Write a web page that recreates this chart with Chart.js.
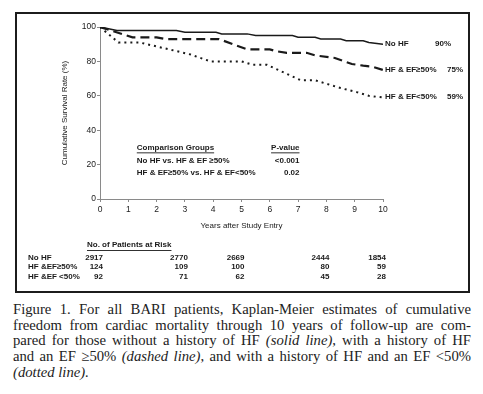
<!DOCTYPE html>
<html>
<head>
<meta charset="utf-8">
<script src="https://cdn.jsdelivr.net/npm/chart.js@4"></script>
<style>
  body { margin: 0; background: #fff; width: 483px; height: 394px; position: relative; overflow: hidden; }
  #box { position: absolute; left: 15px; top: 12px; width: 451px; height: 277px; border: 2px solid #1c1c1c; }
  #caption { position: absolute; left: 13px; top: 302px; width: 458px; font-family: 'Liberation Serif', 'Times New Roman', serif; font-size: 14.7px; line-height: 15.7px; color: #222; }
  #caption div { text-align: justify; text-align-last: justify; white-space: nowrap; }
  #caption div.last { text-align-last: left; }
</style>
</head>
<body>
<div id="box"><canvas id="km" width="451" height="277"></canvas></div>
<div id="caption">
  <div>Figure 1. For all BARI patients, Kaplan-Meier estimates of cumulative</div>
  <div>freedom from cardiac mortality through 10 years of follow-up are com-</div>
  <div>pared for those without a history of HF <i>(solid line)</i>, with a history of HF</div>
  <div>and an EF &ge;50% <i>(dashed line)</i>, and with a history of HF and an EF &lt;50%</div>
  <div class="last"><i>(dotted line).</i></div>
</div>
<script>
// survival curves (years, %)
const noHfYears = [0, 0.6, 2.7, 3.0, 4.1, 4.3, 5.2, 5.5, 6.8, 7.0, 7.6, 7.8, 8.5, 8.7, 9.3, 9.5, 10];
const noHfRate  = [100, 98, 98, 97, 97, 96, 96, 95, 95, 94, 94, 93, 93, 92, 92, 91, 90];
const efHighYears = [0, 1.15, 2.0, 2.3, 4.2, 5.2, 6.0, 6.2, 6.6, 7.3, 7.6, 8.3, 8.9, 9.3, 9.6, 10];
const efHighRate  = [100, 94, 94, 93, 93, 87, 87, 86, 85, 85, 83.5, 82, 78.5, 77.5, 77, 75];
const efLowYears = [0, 0.65, 1.4, 2.7, 3.2, 3.9, 5.0, 5.4, 5.9, 7.1, 7.6, 8.1, 8.5, 9.1, 9.5, 10];
const efLowRate  = [100, 91, 91, 86, 84, 80, 80, 78, 78, 69, 69, 66.5, 64.5, 62, 60, 59];

const seriesNames = ['No HF', 'HF & EF\u226550%', 'HF & EF<50%'];
const endPercents = ['90%', '75%', '59%'];

// comparison table
const compGroups = ['No HF vs. HF & EF \u226550%', 'HF & EF\u226550% vs. HF & EF<50%'];
const compPValues = ['<0.001', '0.02'];

// patients at risk
const riskYears = [0, 3, 5, 8, 10];
const riskLabels = ['No HF', 'HF &EF\u226550%', 'HF &EF <50%'];
const riskNoHf = [2917, 2770, 2669, 2444, 1854];
const riskEfHigh = [124, 109, 100, 80, 59];
const riskEfLow = [92, 71, 62, 45, 28];

const yTicks = [0, 20, 40, 60, 80, 100];

const FONT = "'Liberation Sans', Arial, sans-serif";
const INK = '#1a1a1a';

function pts(xs, ys) { return xs.map((x, i) => ({ x: x, y: ys[i] })); }

function underlineText(ctx, text, x, y, align) {
  ctx.textAlign = align;
  ctx.fillText(text, x, y);
  const w = ctx.measureText(text).width;
  const x0 = align === 'right' ? x - w : x;
  ctx.fillRect(x0, y + 5, w, 0.9);
}

const annotations = {
  id: 'annotations',
  afterDraw(chart) {
    const ctx = chart.ctx;
    const xs = chart.scales.x, ys = chart.scales.y;
    ctx.save();
    ctx.fillStyle = INK;
    ctx.textBaseline = 'middle';
    ctx.font = 'bold 8px ' + FONT;

    // labels at the end of each curve
    const ends = [noHfRate, efHighRate, efLowRate];
    const pctOffsets = [52, 64, 64];
    ends.forEach((arr, i) => {
      const px = xs.getPixelForValue(10);
      const py = ys.getPixelForValue(arr[arr.length - 1]) - 0.5;
      ctx.textAlign = 'left';
      ctx.fillText(seriesNames[i], px + 2, py);
      ctx.fillText(endPercents[i], px + pctOffsets[i], py);
    });

    // comparison groups table
    const cx = xs.getPixelForValue(1.3);
    const px = xs.getPixelForValue(7.05);
    underlineText(ctx, 'Comparison Groups', cx, ys.getPixelForValue(30), 'left');
    underlineText(ctx, 'P-value', px, ys.getPixelForValue(30), 'right');
    compGroups.forEach((g, i) => {
      const y = ys.getPixelForValue(22 - i * 6.5);
      ctx.textAlign = 'left';
      ctx.fillText(g, cx, y);
      ctx.textAlign = 'right';
      ctx.fillText(compPValues[i], px, y);
    });

    // patients at risk
    const base = xs.bottom;
    underlineText(ctx, 'No. of Patients at Risk', 70, base + 14, 'left');
    const rows = [riskNoHf, riskEfHigh, riskEfLow];
    rows.forEach((row, r) => {
      const y = base + 26.5 + r * 9.7;
      ctx.textAlign = 'left';
      ctx.fillText(riskLabels[r], 11, y);
      ctx.textAlign = 'right';
      row.forEach((n, j) => {
        ctx.fillText(String(n), xs.getPixelForValue(riskYears[j]) + 3, y);
      });
    });
    ctx.restore();
  }
};

new Chart(document.getElementById('km'), {
  type: 'line',
  data: {
    datasets: [
      { label: seriesNames[0], data: pts(noHfYears, noHfRate), borderColor: INK, borderWidth: 1.5, pointRadius: 0, tension: 0 },
      { label: seriesNames[1], data: pts(efHighYears, efHighRate), borderColor: INK, borderWidth: 2.2, borderDash: [9, 5], pointRadius: 0, tension: 0 },
      { label: seriesNames[2], data: pts(efLowYears, efLowRate), borderColor: INK, borderWidth: 2, borderDash: [2, 4], pointRadius: 0, tension: 0 }
    ]
  },
  options: {
    responsive: false,
    animation: false,
    layout: { padding: { left: 40, top: 13, right: 85, bottom: 60 } },
    plugins: { legend: { display: false }, tooltip: { enabled: false } },
    scales: {
      x: {
        type: 'linear', min: 0, max: 10,
        afterFit(s) { s.height = 32; },
        border: { color: '#8a8a8a', width: 1 },
        grid: { drawOnChartArea: false, tickLength: 3, color: '#8a8a8a' },
        ticks: { stepSize: 1, padding: 3, color: INK, font: { family: FONT, size: 8.5 } },
        title: { display: true, text: 'Years after Study Entry', color: INK, padding: { top: 0, bottom: 0 }, font: { family: FONT, size: 8 } }
      },
      y: {
        min: 0, max: 100,
        afterFit(s) { s.width = 43; },
        afterBuildTicks(s) { s.ticks = yTicks.map(v => ({ value: v })); },
        border: { color: '#8a8a8a', width: 1 },
        grid: { drawOnChartArea: false, tickLength: 3, color: '#8a8a8a' },
        ticks: { padding: 1, color: INK, font: { family: FONT, size: 8.5 } },
        title: { display: true, text: 'Cumulative Survival Rate (%)', color: INK, padding: { top: 3, bottom: 0 }, font: { family: FONT, size: 8 } }
      }
    }
  },
  plugins: [annotations]
});
</script>
</body>
</html>
